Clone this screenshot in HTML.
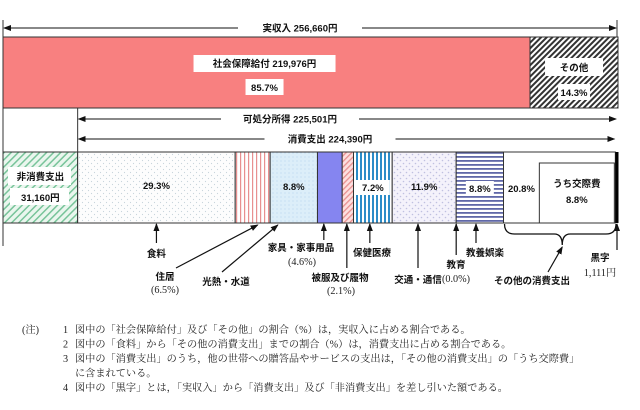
<!DOCTYPE html>
<html><head><meta charset="utf-8"><style>
body{margin:0;background:#fff;width:640px;height:410px;overflow:hidden}
svg{display:block;font-family:"Liberation Sans","Noto Sans CJK JP",sans-serif}
.t{font-size:9.5px;fill:#111;font-weight:bold}
.n{font-size:10.2px;fill:#222;font-family:"Liberation Serif","Noto Serif CJK SC",serif}
</style></head><body>
<svg id="chart" width="640" height="410" viewBox="0 0 640 410">
<defs>
<marker id="ah" markerWidth="8" markerHeight="8" refX="7" refY="4" orient="auto" markerUnits="userSpaceOnUse"><path d="M0,1 L8,4 L0,7 Z" fill="#111"/></marker>
<pattern id="p-hatch" width="4" height="4" patternUnits="userSpaceOnUse" patternTransform="rotate(45)"><rect width="4" height="4" fill="#fff"/><rect width="2" height="4" fill="#333"/></pattern>
<pattern id="p-green" width="5" height="5" patternUnits="userSpaceOnUse" patternTransform="rotate(45)"><rect width="5" height="5" fill="#eaf6ee"/><rect width="1.5" height="5" fill="#78c49a"/></pattern>
<pattern id="p-dots" width="6" height="6" patternUnits="userSpaceOnUse"><rect width="6" height="6" fill="#fdfdfd"/><circle cx="1.5" cy="1.5" r="0.6" fill="#c8d4dc"/><circle cx="4.5" cy="4.5" r="0.6" fill="#c8d4dc"/></pattern>
<pattern id="p-pink" width="4" height="4" patternUnits="userSpaceOnUse"><rect width="4" height="4" fill="#fff"/><rect width="1.2" height="4" fill="#e89090"/></pattern>
<pattern id="p-lblue" width="4" height="4" patternUnits="userSpaceOnUse"><rect width="4" height="4" fill="#dceef9"/><circle cx="1" cy="1" r="0.6" fill="#b8d8ee"/></pattern>
<pattern id="p-pinkd" width="4" height="4" patternUnits="userSpaceOnUse" patternTransform="rotate(45)"><rect width="4" height="4" fill="#fde0e0"/><rect width="1.3" height="4" fill="#e89090"/></pattern>
<pattern id="p-blue" width="4" height="4" patternUnits="userSpaceOnUse"><rect width="4" height="4" fill="#fff"/><rect width="2" height="4" fill="#2c8cc8"/></pattern>
<pattern id="p-lav" width="6" height="6" patternUnits="userSpaceOnUse"><rect width="6" height="6" fill="#f4f2fb"/><circle cx="1.5" cy="1.5" r="0.8" fill="#c0c0e0"/><circle cx="4.5" cy="4.5" r="0.8" fill="#c0c0e0"/></pattern>
<pattern id="p-navy" width="4" height="4" patternUnits="userSpaceOnUse"><rect width="4" height="4" fill="#fff"/><rect width="4" height="1.8" fill="#6068a8"/></pattern>
</defs>
<g id="g"></g>
</svg>
<script>
// data
const totalIncome = 256660;
const incomeLabels = ["社会保障給付 219,976円", "その他"];
const incomeShares = [85.7, 14.3];
const nonConsumption = 31160;
const consumption = 224390;
const disposable = 225501;
const surplus = 1111;
const catNames = ["食料","住居","光熱・水道","家具・家事用品","被服及び履物","保健医療","交通・通信","教育","教養娯楽","その他の消費支出"];
const catShares = [29.3, 6.5, 8.8, 4.6, 2.1, 7.2, 11.9, 0.0, 8.8, 20.8];
const socialShare = 8.8;

const NS="http://www.w3.org/2000/svg";
const g=document.getElementById('g');
function el(tag,attrs,parent){const e=document.createElementNS(NS,tag);for(const k in attrs)e.setAttribute(k,attrs[k]);(parent||g).appendChild(e);return e;}
const X0=3,X1=618;
const xs=v=>X0+v/totalIncome*(X1-X0);
function text(x,y,s,cls,anchor){const t=el('text',{x:x,y:y,class:cls||'t','text-anchor':anchor||'middle'});t.textContent=s;return t;}

// top bar
let cum=0;
const fills1=['#f88080','url(#p-hatch)'];
const segX=[];
incomeShares.forEach((s,i)=>{const a=xs(cum/100*totalIncome);cum+=s;const b=xs(cum/100*totalIncome);
 const r=el('rect',{x:a,y:37,width:b-a,height:71,fill:fills1[i],stroke:'#333','stroke-width':1});
 
 
 segX.push([a,b]);});
{const [a,b]=segX[0];const c=(a+b)/2-2;
 el('rect',{x:c-71,y:55,width:142,height:17,fill:'#fff'});text(c,67,incomeLabels[0]);
 el('rect',{x:c-19,y:79,width:38,height:16,fill:'#fff'});text(c,91,incomeShares[0].toFixed(1)+'%');
 const [a2,b2]=segX[1];const c2=(a2+b2)/2;
 el('rect',{x:c2-29,y:58,width:58,height:18,fill:'#fff'});text(c2,71,incomeLabels[1]);
 el('rect',{x:c2-16,y:84,width:32,height:16,fill:'#fff'});text(c2,96,incomeShares[1].toFixed(1)+'%');}

// span arrows
function span(a,b,y,label,c){c=c||(a+b)/2;const w=label.length*7+40;
 el('line',{x1:c-w/2,y1:y,x2:a+1,y2:y,stroke:'#111','stroke-width':1,'marker-end':'url(#ah)'});
 el('line',{x1:c+w/2,y1:y,x2:b-1,y2:y,stroke:'#111','stroke-width':1,'marker-end':'url(#ah)'});
 const t=text(c,y+3.5,label);return t;}
const xNC=xs(nonConsumption);
span(X0,X1-1,28,'実収入 '+totalIncome.toLocaleString('en-US')+'円',300);
span(xNC,X1-1,119,'可処分所得 '+disposable.toLocaleString('en-US')+'円',290);
span(xNC,xs(nonConsumption+consumption),139,'消費支出 '+consumption.toLocaleString('en-US')+'円',330);
el('line',{x1:X0,y1:20,x2:X0,y2:246,stroke:'#333'});
el('line',{x1:X1-1,y1:20,x2:X1-1,y2:37,stroke:'#333'});
el('line',{x1:xNC,y1:108,x2:xNC,y2:152,stroke:'#333'});

// bottom bar
const Y0=152,Y1=223;
const nc=el('rect',{x:X0,y:Y0,width:xNC-X0,height:Y1-Y0,fill:'url(#p-green)',stroke:'#333'});


el('rect',{x:8,y:167,width:63,height:18,fill:'#fff'});text((X0+xNC)/2,180,'非消費支出');
el('rect',{x:10,y:188,width:59,height:17,fill:'#fff'});text((X0+xNC)/2,201,nonConsumption.toLocaleString('en-US')+'円');
const cFills=['url(#p-dots)','url(#p-pink)','url(#p-lblue)','#8585f0','url(#p-pinkd)','url(#p-blue)','url(#p-lav)','#fff','url(#p-navy)','#fff'];
const cW=xs(nonConsumption+consumption)-xNC;
let cc=0;const cx=[];
catShares.forEach((s,i)=>{const a=xNC+cc/100*cW;cc+=s;const b=xNC+cc/100*cW;cx.push([a,b]);
 const r=el('rect',{x:a,y:Y0,width:Math.max(b-a,0),height:Y1-Y0,fill:cFills[i],stroke:'#333','stroke-width':1});
 
 });
const sb=el('rect',{x:xs(nonConsumption+consumption),y:Y0,width:xs(totalIncome)-xs(nonConsumption+consumption)+0.5,height:Y1-Y0,fill:'#000'});


function mid(i){return (cx[i][0]+cx[i][1])/2;}
text(mid(0),189,catShares[0].toFixed(1)+'%');
text(mid(2),190,catShares[2].toFixed(1)+'%');
el('rect',{x:mid(5)-17,y:180,width:34,height:15,fill:'#fff'});text(mid(5),191,catShares[5].toFixed(1)+'%');
text(mid(6),190,catShares[6].toFixed(1)+'%');
el('rect',{x:mid(8)-14,y:181,width:28,height:14,fill:'#fff'});text(mid(8),192,catShares[8].toFixed(1)+'%');
const boxW=75;
const bx=cx[9][1]-boxW-1;
text((cx[9][0]+bx)/2,192,catShares[9].toFixed(1)+'%');
const bxr=el('rect',{x:bx,y:163,width:boxW,height:Y1-163,fill:'#fff',stroke:'#333'});


text(bx+boxW/2,187,'うち交際費');text(bx+boxW/2,203,socialShare.toFixed(1)+'%');

// annotations
function arrow(x1,y1,x2,y2){el('line',{x1:x1,y1:y1,x2:x2,y2:y2,stroke:'#111','stroke-width':1.2,'marker-end':'url(#ah)'});}
arrow(mid(0),243,mid(0),224);text(mid(0),257,catNames[0]);
arrow(176,268,mid(1)+5,225);text(165,280,catNames[1]);text(165,293,'('+catShares[1].toFixed(1)+'%)','n');
arrow(222,272,mid(2)-16,225);text(226,285,catNames[2]);
arrow(mid(3)-6,240,mid(3)-6,224);text(301,251,catNames[3]);text(302,265,'('+catShares[3].toFixed(1)+'%)','n');
arrow(mid(4)-1,268,mid(4)-1,224);text(340,281,catNames[4]);text(341,294,'('+catShares[4].toFixed(1)+'%)','n');
arrow(mid(5)-3,243,mid(5)-3,224);text(372,256,catNames[5]);
arrow(418,268,418,224);text(418,283,catNames[6]);
arrow(cx[7][0],255,cx[7][0],224);text(456,268,catNames[7]);text(456,282,'('+catShares[7].toFixed(1)+'%)','n');
arrow(476,243,476,224);text(485,256,catNames[8]);
const b0=cx[9][0]+1,b1=X1-2,bm=(b0+b1)/2+2;
el('path',{d:`M${b0},224 Q${b0},234 ${b0+10},234 L${bm-8},234 Q${bm},234 ${bm},245 Q${bm},234 ${bm+8},234 L${b1-10},234 Q${b1},234 ${b1},224`,fill:'none',stroke:'#111','stroke-width':1.3});
arrow(548,272,bm,247);text(532,284,catNames[9]);
arrow(617,250,617,224);text(600,261,'黒字');text(600,276,surplus.toLocaleString('en-US')+'円','n');

// notes
const notes=["図中の「社会保障給付」及び「その他」の割合（%）は，実収入に占める割合である。","図中の「食料」から「その他の消費支出」までの割合（%）は，消費支出に占める割合である。","図中の「消費支出」のうち，他の世帯への贈答品やサービスの支出は，「その他の消費支出」の「うち交際費」","に含まれている。","図中の「黒字」とは，「実収入」から「消費支出」及び「非消費支出」を差し引いた額である。"];
const nums=["1","2","3","","4"];
const ng=el('g',{});


const h=el('text',{x:22,y:333,class:'n'},ng);h.textContent='(注)';
notes.forEach((s,i)=>{const y=333+i*14.5;
 if(nums[i]){const t=el('text',{x:63,y:y,class:'n'},ng);t.textContent=nums[i];}
 const t=el('text',{x:75,y:y,class:'n'},ng);t.textContent=s;});
</script>
</body></html>
